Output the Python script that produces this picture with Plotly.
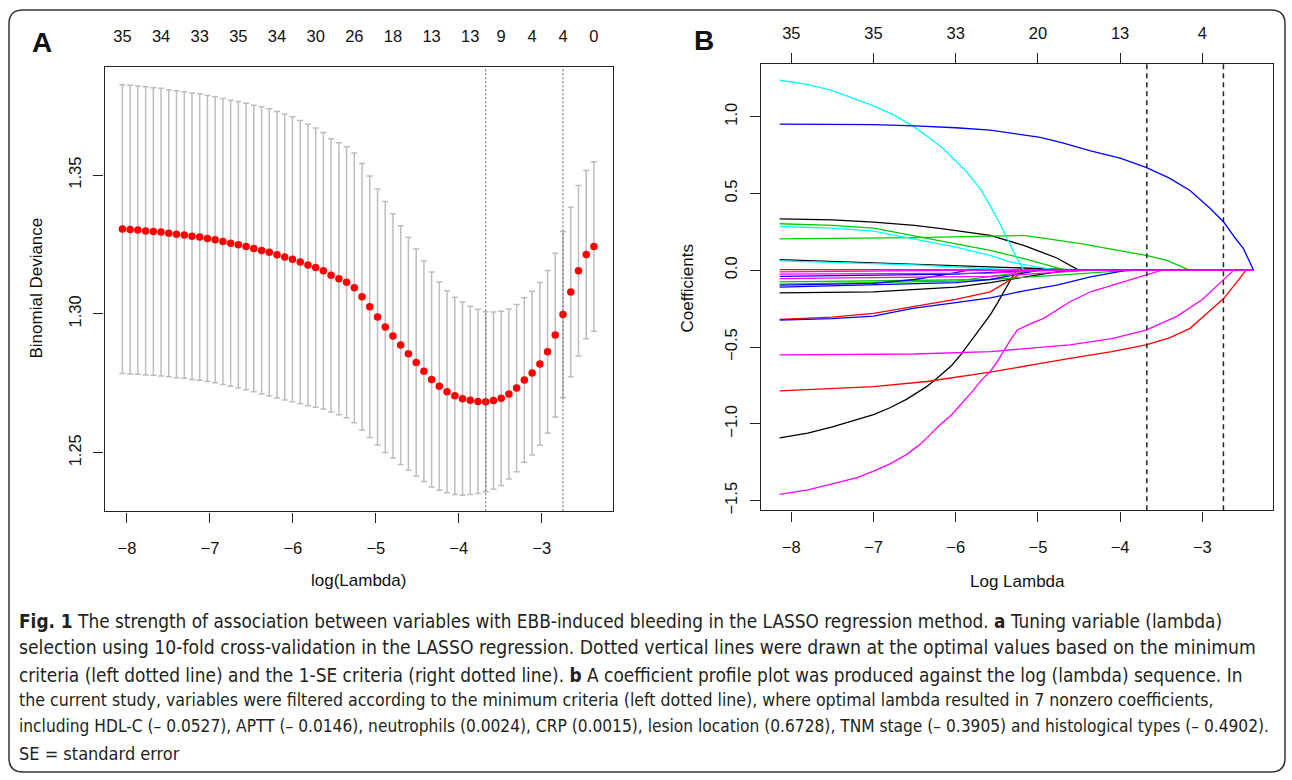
import plotly.graph_objects as go

W, H = 1292, 780

# -----------------------------
# Panel A: 10-fold CV curve
# -----------------------------
log_lambda = [-8.055, -7.962, -7.869, -7.775, -7.682, -7.589, -7.496, -7.403, -7.309, -7.216,
              -7.123, -7.030, -6.937, -6.843, -6.750, -6.657, -6.564, -6.471, -6.377, -6.284,
              -6.191, -6.098, -6.005, -5.911, -5.818, -5.725, -5.632, -5.539, -5.445, -5.352,
              -5.259, -5.166, -5.073, -4.979, -4.886, -4.793, -4.700, -4.607, -4.513, -4.420,
              -4.327, -4.234, -4.141, -4.047, -3.954, -3.861, -3.768, -3.675, -3.581, -3.488,
              -3.395, -3.302, -3.209, -3.115, -3.022, -2.929, -2.836, -2.743, -2.649, -2.556,
              -2.463, -2.370]

cv_mean = [1.3306, 1.3304, 1.3302, 1.3299, 1.3297, 1.3295, 1.3291, 1.3287, 1.3284, 1.3280,
           1.3277, 1.3272, 1.3267, 1.3261, 1.3255, 1.3249, 1.3243, 1.3236, 1.3229, 1.3222,
           1.3213, 1.3205, 1.3197, 1.3187, 1.3176, 1.3167, 1.3156, 1.3139, 1.3127, 1.3114,
           1.3094, 1.3062, 1.3026, 1.2989, 1.2953, 1.2921, 1.2888, 1.2857, 1.2825, 1.2794,
           1.2764, 1.2740, 1.2720, 1.2705, 1.2695, 1.2689, 1.2685, 1.2684, 1.2688, 1.2696,
           1.2712, 1.2733, 1.2762, 1.2787, 1.2820, 1.2864, 1.2924, 1.2998, 1.3079, 1.3156,
           1.3214, 1.3243]

cv_se = [0.0520, 0.0520, 0.0519, 0.0519, 0.0518, 0.0518, 0.0517, 0.0517, 0.0516, 0.0516,
         0.0516, 0.0515, 0.0515, 0.0515, 0.0515, 0.0516, 0.0516, 0.0516, 0.0517, 0.0517,
         0.0516, 0.0515, 0.0513, 0.0510, 0.0507, 0.0503, 0.0498, 0.0492, 0.0490, 0.0488,
         0.0486, 0.0480, 0.0471, 0.0461, 0.0452, 0.0440, 0.0430, 0.0419, 0.0409, 0.0397,
         0.0387, 0.0375, 0.0364, 0.0355, 0.0348, 0.0339, 0.0332, 0.0324, 0.0319, 0.0314,
         0.0306, 0.0301, 0.0296, 0.0295, 0.0293, 0.0293, 0.0295, 0.0299, 0.0305, 0.0307,
         0.0303, 0.0305]

nz_pos_a = [-8.055, -7.589, -7.123, -6.657, -6.191, -5.725, -5.259, -4.793, -4.327,
            -3.861, -3.488, -3.115, -2.743, -2.370]
nz_lab_a = ["35", "34", "33", "35", "34", "30", "26", "18", "13", "13", "9", "4", "4", "0"]

lambda_min = -3.675
lambda_1se = -2.743

# -----------------------------
# Panel B: coefficient profiles
# -----------------------------
nz_pos_b = [-8, -7, -6, -5, -4, -3]
nz_lab_b = ["35", "35", "33", "20", "13", "4"]

cyan_big_x = [-8.142, -7.8, -7.5, -7.32, -7.0, -6.75, -6.524, -6.3, -6.147, -5.863, -5.7, -5.58,
              -5.45, -5.275, -5.17, -2.376]
cyan_big_y = [1.237, 1.210, 1.170, 1.135, 1.070, 1.010, 0.940, 0.855, 0.789, 0.638, 0.530, 0.420,
              0.290, 0.097, 0.0, 0.0]

blue_big_x = [-8.142, -7.5, -7.0, -6.5, -6.0, -5.58, -5.2, -4.97, -4.7, -4.36, -4.0, -3.684, -3.4,
              -3.15, -2.9, -2.74, -2.6, -2.50, -2.376]
blue_big_y = [0.951, 0.950, 0.948, 0.940, 0.928, 0.912, 0.885, 0.865, 0.830, 0.778, 0.730, 0.670,
              0.600, 0.519, 0.400, 0.314, 0.210, 0.141, 0.0]

black_a_x = [-8.142, -7.5, -7.0, -6.5, -6.15, -5.8, -5.58, -5.174, -4.77, -4.50, -2.376]
black_a_y = [0.335, 0.328, 0.314, 0.292, 0.270, 0.245, 0.227, 0.162, 0.080, 0.0, 0.0]

green_a_x = [-8.142, -7.5, -7.0, -6.524, -6.0, -5.58, -5.17, -4.77, -4.65, -2.376]
green_a_y = [0.303, 0.292, 0.275, 0.227, 0.175, 0.130, 0.076, 0.016, 0.0, 0.0]

cyan_a_x = [-8.142, -7.5, -7.0, -6.524, -6.0, -5.58, -5.34, -5.0, -4.74, -2.376]
cyan_a_y = [0.285, 0.274, 0.255, 0.205, 0.150, 0.097, 0.054, 0.020, 0.0, 0.0]

green_b_x = [-8.142, -6.5, -5.58, -5.17, -4.48, -3.684, -3.43, -3.15, -2.376]
green_b_y = [0.205, 0.212, 0.222, 0.227, 0.173, 0.097, 0.065, 0.0, 0.0]

black_b_x = [-8.142, -5.58, -4.8, -4.36, -2.376]
black_b_y = [0.069, 0.022, 0.008, 0.0, 0.0]

cyan_b_x = [-8.142, -6.5, -5.6, -5.2, -2.376]
cyan_b_y = [0.061, 0.035, 0.01, 0.0, 0.0]

red_a_x = [-8.142, -6.5, -6.0, -2.376]
red_a_y = [0.004, 0.003, 0.0, 0.0]

magenta_a_x = [-8.142, -6.5, -6.0, -2.376]
magenta_a_y = [-0.010, -0.006, 0.0, 0.0]

magenta_b_x = [-8.142, -5.58, -4.8, -2.376]
magenta_b_y = [-0.025, -0.018, 0.0, 0.0]

blue_a_x = [-8.142, -6.0, -5.0, -2.376]
blue_a_y = [-0.040, -0.025, 0.0, 0.0]

magenta_c_x = [-8.142, -5.58, -4.4, -2.376]
magenta_c_y = [-0.055, -0.040, 0.0, 0.0]

green_c_x = [-8.142, -5.58, -4.7, -3.9, -2.376]
green_c_y = [-0.075, -0.060, -0.030, 0.0, 0.0]

green_d_x = [-8.142, -6.0, -5.0, -2.376]
green_d_y = [-0.090, -0.070, 0.0, 0.0]

blue_b_x = [-8.142, -7.0, -6.5, -6.15, -5.86, -2.376]
blue_b_y = [-0.097, -0.085, -0.060, -0.030, 0.0, 0.0]

blue_c_x = [-8.142, -6.0, -5.58, -5.0, -2.376]
blue_c_y = [-0.110, -0.080, -0.060, 0.0, 0.0]

black_c_x = [-8.142, -7.0, -6.0, -5.58, -5.0, -4.77, -4.48, -2.376]
black_c_y = [-0.147, -0.140, -0.110, -0.080, -0.030, -0.010, 0.0, 0.0]

red_b_x = [-8.142, -7.5, -7.0, -6.524, -6.0, -5.58, -5.4, -5.21, -5.15, -2.376]
red_b_y = [-0.320, -0.305, -0.281, -0.238, -0.190, -0.140, -0.085, -0.022, 0.0, 0.0]

blue_d_x = [-8.142, -7.5, -7.0, -6.524, -6.0, -5.58, -5.17, -4.77, -4.36, -3.96, -3.83, -2.376]
blue_d_y = [-0.325, -0.315, -0.298, -0.248, -0.210, -0.179, -0.134, -0.097, -0.043, -0.004, 0.0, 0.0]

black_big_x = [-8.142, -7.8, -7.5, -7.2, -7.0, -6.8, -6.6, -6.45, -6.35, -6.2, -6.05, -5.94, -5.8,
               -5.68, -5.58, -5.5, -5.42, -5.34, -5.275, -5.24, -2.376]
black_big_y = [-1.091, -1.060, -1.020, -0.975, -0.940, -0.895, -0.840, -0.790, -0.756, -0.690,
               -0.620, -0.551, -0.450, -0.360, -0.290, -0.220, -0.140, -0.070, -0.010, 0.0, 0.0]

red_c_x = [-8.142, -7.0, -6.35, -5.58, -5.0, -4.61, -4.1, -3.684, -3.4, -3.15, -2.95, -2.74, -2.6,
           -2.47, -2.376]
red_c_y = [-0.785, -0.758, -0.724, -0.663, -0.610, -0.573, -0.530, -0.486, -0.440, -0.378, -0.283,
           -0.184, -0.090, 0.0, 0.0]

magenta_d_x = [-8.142, -6.5, -5.58, -5.0, -4.61, -4.1, -3.684, -3.31, -3.0, -2.8, -2.62, -2.376]
magenta_d_y = [-0.551, -0.545, -0.529, -0.505, -0.486, -0.445, -0.389, -0.300, -0.190, -0.090, 0.0, 0.0]

magenta_big_x = [-8.142, -7.8, -7.5, -7.2, -7.0, -6.8, -6.6, -6.45, -6.35, -6.2, -6.05, -5.94,
                 -5.8, -5.68, -5.58, -5.5, -5.42, -5.33, -5.25, -5.1, -4.93, -4.77, -4.61, -4.36,
                 -4.15, -3.96, -3.75, -3.55, -3.5, -2.376]
magenta_big_y = [-1.459, -1.430, -1.390, -1.350, -1.308, -1.260, -1.200, -1.140, -1.091, -1.010,
                 -0.940, -0.875, -0.790, -0.710, -0.659, -0.600, -0.529, -0.450, -0.389, -0.350,
                 -0.313, -0.260, -0.205, -0.140, -0.105, -0.075, -0.040, -0.010, 0.0, 0.0]

BLACK, RED, GREEN, BLUE, CYAN, MAGENTA = "#000000", "#ff0000", "#00cd00", "#0000ff", "#00ffff", "#ff00ff"

paths = [
    (black_a_x, black_a_y, BLACK), (black_b_x, black_b_y, BLACK), (black_c_x, black_c_y, BLACK),
    (black_big_x, black_big_y, BLACK),
    (red_a_x, red_a_y, RED), (red_b_x, red_b_y, RED), (red_c_x, red_c_y, RED),
    (green_a_x, green_a_y, GREEN), (green_b_x, green_b_y, GREEN), (green_c_x, green_c_y, GREEN),
    (green_d_x, green_d_y, GREEN),
    (cyan_big_x, cyan_big_y, CYAN), (cyan_a_x, cyan_a_y, CYAN), (cyan_b_x, cyan_b_y, CYAN),
    (blue_a_x, blue_a_y, BLUE), (blue_b_x, blue_b_y, BLUE), (blue_c_x, blue_c_y, BLUE),
    (blue_d_x, blue_d_y, BLUE), (blue_big_x, blue_big_y, BLUE),
    (magenta_a_x, magenta_a_y, MAGENTA), (magenta_b_x, magenta_b_y, MAGENTA),
    (magenta_c_x, magenta_c_y, MAGENTA), (magenta_d_x, magenta_d_y, MAGENTA),
    (magenta_big_x, magenta_big_y, MAGENTA),
]

caption_lines = [
    "<b>Fig. 1</b> The strength of association between variables with EBB-induced bleeding in the LASSO regression method. <b>a</b> Tuning variable (lambda)",
    "selection using 10-fold cross-validation in the LASSO regression. Dotted vertical lines were drawn at the optimal values based on the minimum",
    "criteria (left dotted line) and the 1-SE criteria (right dotted line). <b>b</b> A coefficient profile plot was produced against the log (lambda) sequence. In",
    "the current study, variables were filtered according to the minimum criteria (left dotted line), where optimal lambda resulted in 7 nonzero coefficients,",
    "including HDL-C (\u2013 0.0527), APTT (\u2013 0.0146), neutrophils (0.0024), CRP (0.0015), lesion location (0.6728), TNM stage (\u2013 0.3905) and histological types (\u2013 0.4902).",
    "SE = standard error",
]
cap_y = [625, 651, 678, 704, 730, 757]
cap_size = [18.85, 19.2, 18.9, 17.6, 17.2, 18.0]


def px(x):
    return x / W


def py(y):
    return 1 - y / H


FONT = "Liberation Sans, Arial, sans-serif"
CAP_FONT = "Liberation Sans Narrow, DejaVu Sans Condensed, Roboto, sans-serif"

fig = go.Figure()

# panel A
fig.add_trace(go.Scatter(
    x=log_lambda, y=cv_mean, mode="markers",
    marker=dict(color="#ff0000", size=7.5),
    error_y=dict(type="data", array=cv_se, visible=True, color="#bdbdbd", thickness=1.5, width=3),
    xaxis="x", yaxis="y", showlegend=False, hoverinfo="skip",
))
fig.add_trace(go.Scatter(
    x=nz_pos_a, y=[1.3] * len(nz_pos_a), mode="markers", marker=dict(opacity=0),
    xaxis="x3", yaxis="y", showlegend=False, hoverinfo="skip",
))

# panel B
for xs, ys, col in paths:
    fig.add_trace(go.Scatter(
        x=xs, y=ys, mode="lines", line=dict(color=col, width=1.3),
        xaxis="x2", yaxis="y2", showlegend=False, hoverinfo="skip",
    ))
fig.add_trace(go.Scatter(
    x=nz_pos_b, y=[0] * len(nz_pos_b), mode="markers", marker=dict(opacity=0),
    xaxis="x4", yaxis="y2", showlegend=False, hoverinfo="skip",
))

axis_common = dict(showgrid=False, zeroline=False, showline=True, linecolor="#222",
                   linewidth=1.3, ticks="outside", ticklen=10, tickwidth=1.3,
                   tickcolor="#222", tickfont=dict(family=FONT, size=16.5, color="#111"))

xa_dom = [px(104.5), px(612.5)]
ya_dom = [py(514), py(67.5)]
xb_dom = [px(761), px(1273)]
yb_dom = [py(513), py(64)]

fig.update_layout(
    width=W, height=H, margin=dict(l=0, r=0, t=0, b=0),
    paper_bgcolor="white", plot_bgcolor="white",
    xaxis=dict(domain=xa_dom, anchor="y", range=[-8.271, -2.146], tickvals=[-8, -7, -6, -5, -4, -3],
               mirror=True, ticklabelstandoff=12, **axis_common),
    yaxis=dict(domain=ya_dom, anchor="x", range=[1.2289, 1.3889], tickvals=[1.25, 1.30, 1.35],
               tickformat=".2f", tickangle=-90, mirror=True, ticklabelstandoff=6, **axis_common),
    xaxis3=dict(overlaying="x", anchor="y", side="top", range=[-8.271, -2.146],
                tickvals=nz_pos_a, ticktext=nz_lab_a, showgrid=False, zeroline=False,
                showline=False, ticks="", ticklabelstandoff=21,
                tickfont=dict(family=FONT, size=16.5, color="#111")),
    xaxis2=dict(domain=xb_dom, anchor="y2", range=[-8.369, -2.140], tickvals=[-8, -7, -6, -5, -4, -3],
                mirror=True, ticklabelstandoff=12, **axis_common),
    yaxis2=dict(domain=yb_dom, anchor="x2", range=[-1.563, 1.345],
                tickvals=[-1.5, -1.0, -0.5, 0.0, 0.5, 1.0], tickformat=".1f", tickangle=-90,
                mirror=True, ticklabelstandoff=6, **axis_common),
    xaxis4=dict(overlaying="x2", anchor="y2", side="top", range=[-8.369, -2.140],
                tickvals=nz_pos_b, ticktext=nz_lab_b, showgrid=False, zeroline=False,
                showline=False, ticks="outside", ticklen=10, tickwidth=1.3, tickcolor="#222",
                ticklabelstandoff=7, tickfont=dict(family=FONT, size=16.5, color="#111")),
)

# vertical reference lines
for v in (lambda_min, lambda_1se):
    fig.add_shape(type="line", xref="x", yref="y domain", x0=v, x1=v, y0=0, y1=1,
                  line=dict(color="#777", width=1.2, dash="2px,2px"))
    fig.add_shape(type="line", xref="x2", yref="y2 domain", x0=v, x1=v, y0=0, y1=1,
                  line=dict(color="#222", width=1.5, dash="5px,4px"))

# rounded outer frame
x0, y0, x1, y1, r = 9, 10, 1285, 776, 14
frame = (f"M {px(x0 + r)},{py(y0)} L {px(x1 - r)},{py(y0)} Q {px(x1)},{py(y0)} {px(x1)},{py(y0 + r)} "
         f"L {px(x1)},{py(y1 - r)} Q {px(x1)},{py(y1)} {px(x1 - r)},{py(y1)} "
         f"L {px(x0 + r)},{py(y1)} Q {px(x0)},{py(y1)} {px(x0)},{py(y1 - r)} "
         f"L {px(x0)},{py(y0 + r)} Q {px(x0)},{py(y0)} {px(x0 + r)},{py(y0)} Z")
fig.add_shape(type="path", xref="paper", yref="paper", path=frame,
              line=dict(color="#333", width=1.5))

# labels
ann = [
    dict(text="<b>A</b>", x=px(42), y=py(43), font=dict(family=FONT, size=28, color="#111")),
    dict(text="<b>B</b>", x=px(704), y=py(41), font=dict(family=FONT, size=28, color="#111")),
    dict(text="Binomial Deviance", x=px(37), y=py(290), textangle=-90,
         font=dict(family=FONT, size=17, color="#111")),
    dict(text="log(Lambda)", x=px(358), y=py(583), font=dict(family=FONT, size=17, color="#111")),
    dict(text="Coefficients", x=px(688), y=py(290), textangle=-90,
         font=dict(family=FONT, size=17, color="#111")),
    dict(text="Log Lambda", x=px(1017), y=py(584), font=dict(family=FONT, size=17, color="#111")),
]
for a in ann:
    fig.add_annotation(xref="paper", yref="paper", showarrow=False, xanchor="center",
                       yanchor="middle", **a)

for line, yy, sz in zip(caption_lines, cap_y, cap_size):
    fig.add_annotation(text=line, xref="paper", yref="paper", x=px(17), y=py(yy),
                       xanchor="left", yanchor="middle", showarrow=False,
                       font=dict(family=CAP_FONT, size=sz, color="#231f20"))

# drop the default 8px page margin so the figure sits at the window's top-left corner
fig.write_html("out.html", config={"displayModeBar": False},
               post_script="document.body.style.margin='0px';")
